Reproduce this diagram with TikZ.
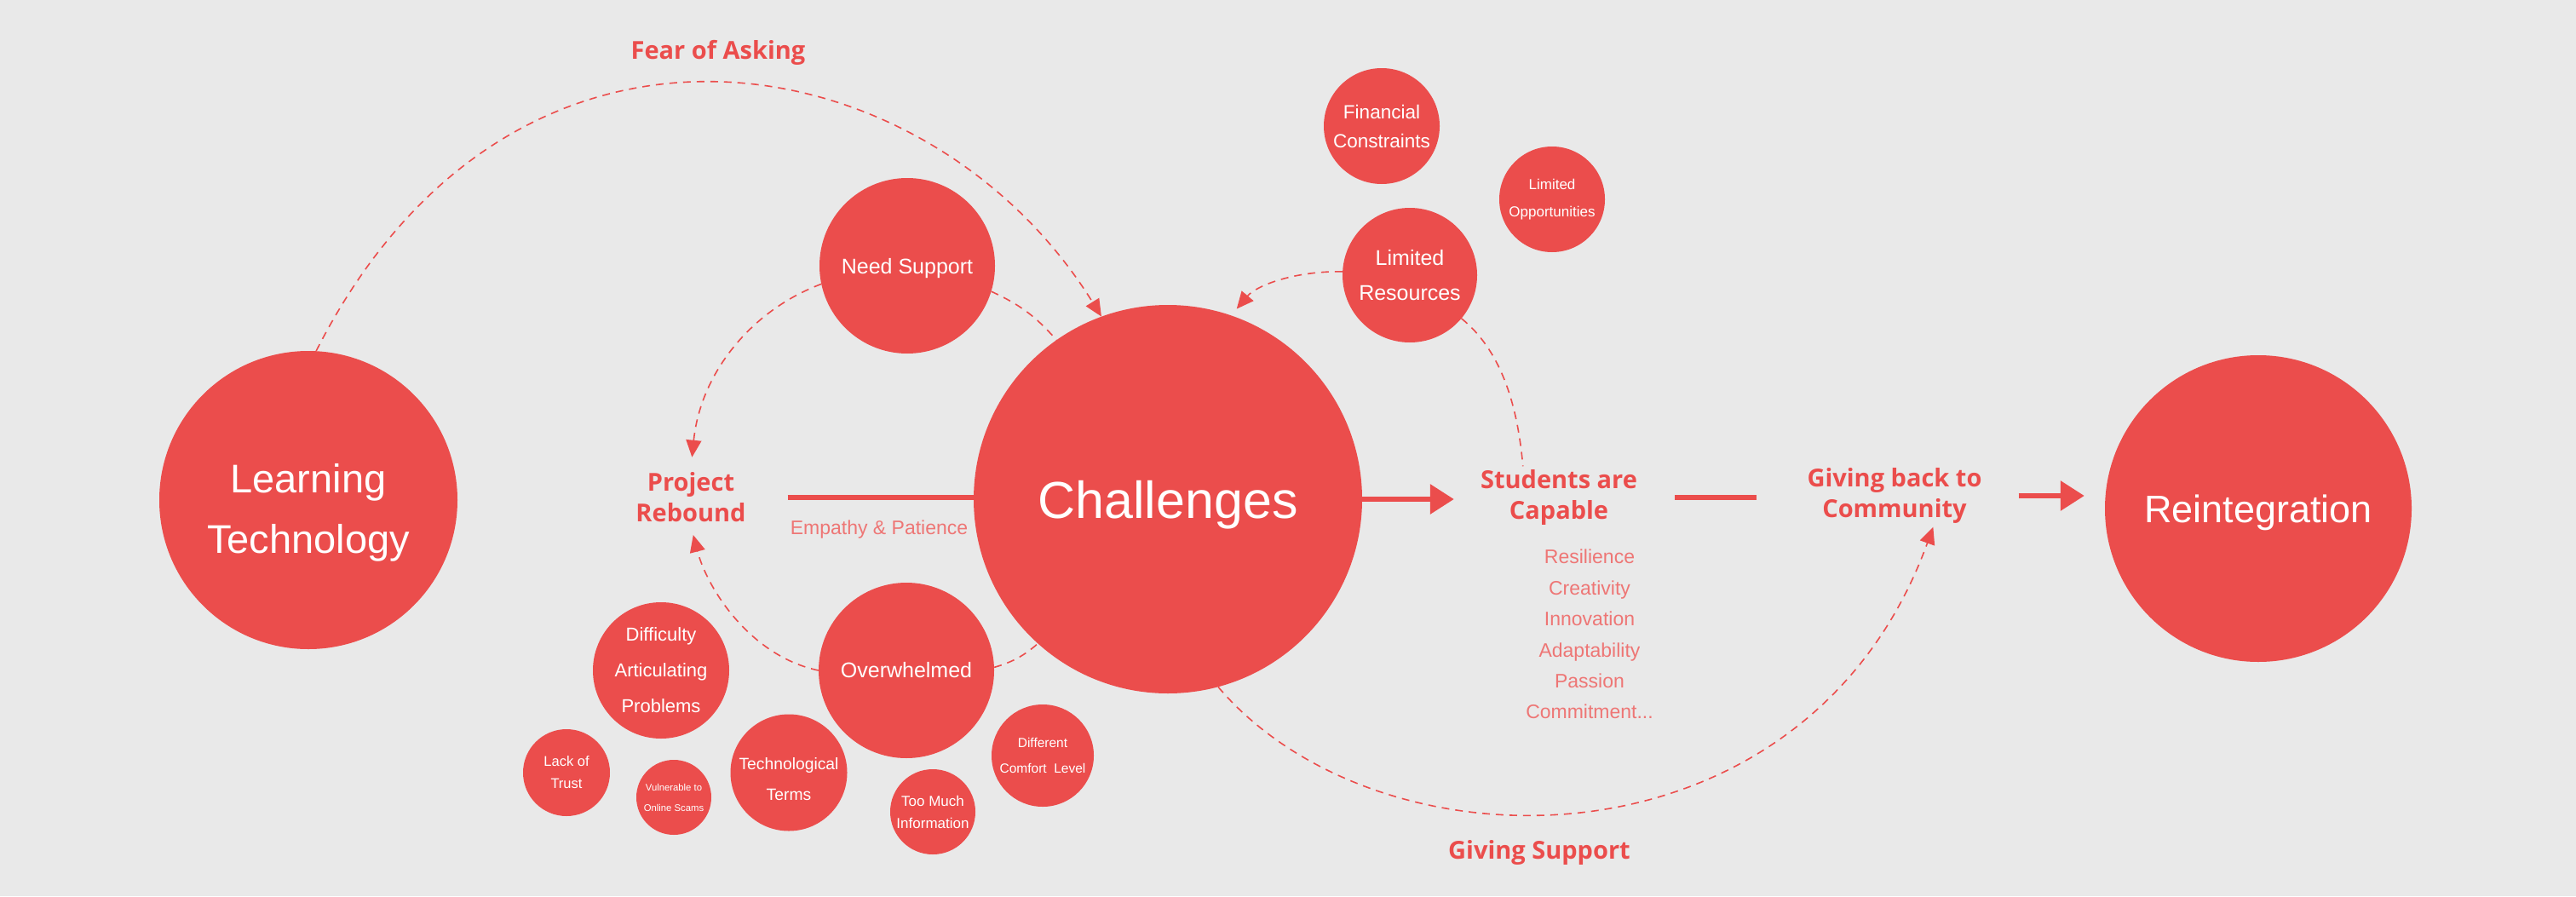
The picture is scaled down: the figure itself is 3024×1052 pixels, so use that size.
\documentclass[tikz,border=0pt]{standalone}
\usepackage{fontspec}
\setmainfont{Liberation Sans}
\newfontfamily\headfont{Open Sans}
\usetikzlibrary{positioning,arrows.meta}
\definecolor{cred}{RGB}{235,77,76}
\definecolor{clight}{RGB}{238,118,117}
\definecolor{cback}{RGB}{233,233,233}
\tikzset{
  bubble/.style={circle,fill=cred,text=white,align=center,inner sep=0pt},
  headlabel/.style={text=cred,align=center,inner sep=4pt,
    font=\headfont\bfseries\fontsize{29}{36}\selectfont},
  softlabel/.style={text=clight,align=center,font=\fontsize{23}{36.4}\selectfont},
  dashlink/.style={draw=cred,line width=1.6pt,dash pattern=on 9pt off 7pt},
  solidlink/.style={draw=cred,line width=6pt},
  dashtip/.style={-{Triangle[length=20pt,width=18pt]}},
  bigtip/.style={-{Triangle[length=28pt,width=34pt]}}
}
\newcommand{\Bubble}[7][]{
  \node[bubble,minimum size=#4pt,font=\fontsize{#5}{#6}\selectfont,#1]
  (#2) at (#3) {#7};
}

\begin{document}
\begin{tikzpicture}[x=1pt,y=-1pt]
  \path[use as bounding box,fill=cback] (0,0) rectangle (3024,1052);
  % main circles
  \Bubble{LT}{362,587}{350}{47}{71}{\rule{0pt}{64pt}Learning\\Technology}
  \Bubble[text depth=0pt]{CH}{1371,586}{456}{61}{70}{Challenges}
  \Bubble[text depth=0pt]{RE}{2651,597}{360}{45}{54}{Reintegration}
  % around challenges
  \Bubble[text depth=0pt]{NS}{1065,312}{206}{25}{30}{Need Support}
  \Bubble{OW}{1064,787}{206}{25}{30}{Overwhelmed}
  \Bubble{FC}{1622,148}{136}{22.5}{34}{Financial\\Constraints}
  \Bubble{LO}{1822,234}{124}{17}{32}{Limited\\Opportunities}
  \Bubble{LR}{1655,323}{158}{25}{41}{Limited\\Resources}
  \Bubble{DAP}{776,787}{160}{22}{42}{Difficulty\\Articulating\\Problems}
  \Bubble{LoT}{665,907}{102}{16.5}{26}{Lack of\\Trust}
  \Bubble{VOS}{791,936}{88}{11.3}{24}{Vulnerable to\\Online Scams}
  \Bubble{TT}{926,907}{137}{19.3}{36}{\rule{0pt}{30pt}Technological\\Terms}
  \Bubble{TMI}{1095,953}{100}{17}{26}{Too Much\\Information}
  \Bubble{DCL}{1224,887}{120}{15.5}{30}{Different\\Comfort\ \ Level}
  % labels
  \node[headlabel] (FA) at (843,62) {Fear of Asking};
  \node[headlabel] (PR) at (811,584) {Project\\Rebound};
  \node[headlabel] (SC) at (1830,584) {Students are\\Capable};
  \node[headlabel] (GB) at (2224,582) {Giving back to\\Community};
  \node[headlabel] (GS) at (1807,1001) {Giving Support};
  \node[softlabel] (EP) at (1032,622) {Empathy \& Patience};
  \node[softlabel,below=21pt of SC,xshift=36pt] (traits)
    {Resilience\\Creativity\\Innovation\\Adaptability\\Passion\\Commitment...};
  % dashed links
  \draw[dashlink,dashtip] (LT.87) .. controls (604,-47) and (1092,47) .. (CH.110);
  \draw[dashlink,dashtip,shorten >=14pt] (NS.192) .. controls (880,365) and (822,440) .. (PR.north);
  \draw[dashlink,dashtip,shorten >=11pt] (OW.180) .. controls (880,770) and (830,690) .. (PR.south);
  \draw[dashlink] (NS.-17) to[bend left=12] (CH.125);
  \draw[dashlink] (OW.2) to[bend right=12] (CH.-132);
  \draw[dashlink,dashtip,shorten >=10pt] (LR.177) .. controls (1520,318) and (1475,335) .. (CH.71);
  \draw[dashlink] (LR.-40) .. controls (1760,410) and (1781,470) .. (SC.139);
  \draw[dashlink,dashtip] (CH.-75) .. controls (1620,1030) and (2120,1030) .. (GB.-39);
  % solid links
  \draw[solidlink,shorten <=45pt] (PR.east) -- (PR.east -| CH.west);
  \draw[solidlink,bigtip,shorten >=27pt] (CH.east) -- (CH.east -| SC.west);
  \draw[solidlink,shorten <=40pt,shorten >=55pt] (SC.east) -- (SC.east -| GB.west);
  \draw[solidlink,bigtip,shorten <=39pt,shorten >=24pt] (GB.east) -- (GB.east -| RE.west);
\end{tikzpicture}
\end{document}
